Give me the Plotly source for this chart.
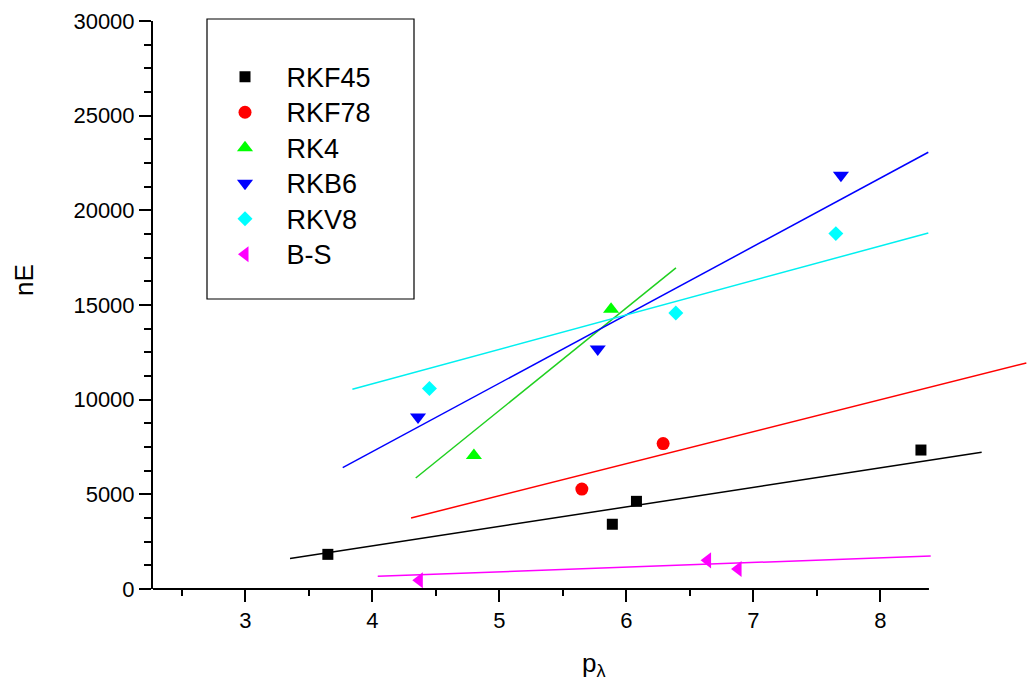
import plotly.graph_objects as go

# ---- data ----
names = ["RKF45", "RKF78", "RK4", "RKB6", "RKV8", "B-S"]

rkf45_x = [3.65, 5.89, 6.08, 8.32]
rkf45_y = [1830, 3420, 4630, 7340]
rkf78_x = [5.65, 6.29]
rkf78_y = [5280, 7680]
rk4_x = [4.80, 5.88]
rk4_y = [7050, 14780]
rkb6_x = [4.36, 5.775, 7.69]
rkb6_y = [9080, 12680, 21850]
rkv8_x = [4.45, 6.39, 7.65]
rkv8_y = [10590, 14580, 18770]
bs_x = [4.37, 6.64, 6.88]
bs_y = [460, 1516, 1057]

# fitted straight lines (end points)
fit_rkf45_x = [3.352, 8.798]
fit_rkf45_y = [1606, 7220]
fit_rkf78_x = [4.305, 9.15]
fit_rkf78_y = [3751, 11939]
fit_rk4_x = [4.342, 6.391]
fit_rk4_y = [5864, 16957]
fit_rkb6_x = [3.767, 8.378]
fit_rkb6_y = [6413, 23069]
fit_rkv8_x = [3.843, 8.378]
fit_rkv8_y = [10549, 18806]
fit_bs_x = [4.043, 8.397]
fit_bs_y = [671, 1743]

x_major = [3, 4, 5, 6, 7, 8]
x_minor = [2.5, 3.5, 4.5, 5.5, 6.5, 7.5]
x_axis_end = 8.383
y_major = [0, 5000, 10000, 15000, 20000, 25000, 30000]

# ---- styling ----
FONT = "Liberation Sans, Arial, sans-serif"
series = [
    (rkf45_x, rkf45_y, fit_rkf45_x, fit_rkf45_y, "#000000", "#000000", "square", 11),
    (rkf78_x, rkf78_y, fit_rkf78_x, fit_rkf78_y, "#FF0000", "#FF0000", "circle", 13),
    (rk4_x, rk4_y, fit_rk4_x, fit_rk4_y, "#00FF00", "#20D020", "triangle-up", 14),
    (rkb6_x, rkb6_y, fit_rkb6_x, fit_rkb6_y, "#0000FF", "#0000FF", "triangle-down", 14),
    (rkv8_x, rkv8_y, fit_rkv8_x, fit_rkv8_y, "#00FFFF", "#00F0F0", "diamond", 11.5),
    (bs_x, bs_y, fit_bs_x, fit_bs_y, "#FF00FF", "#FF00FF", "triangle-left", 14),
]

fig = go.Figure()
for name, (px_, py_, fx, fy, mcol, lcol, sym, size) in zip(names, series):
    fig.add_trace(go.Scatter(
        x=fx, y=fy, mode="lines", line=dict(color=lcol, width=1.5),
        showlegend=False, hoverinfo="skip"))
for name, (px_, py_, fx, fy, mcol, lcol, sym, size) in zip(names, series):
    fig.add_trace(go.Scatter(
        x=px_, y=py_, mode="markers",
        name='<span style="font-size:27px">%s</span>' % name,
        marker=dict(symbol=sym, size=size, color=mcol, line=dict(width=0))))

W, H = 1027, 686
L, R, T, B = 153, 0, 21, 97
pxu = 127.0
x0 = 3 - (245.3 - L) / pxu
x1 = 3 + (W - R - 245.3) / pxu
PW, PH = W - L - R, H - T - B

fig.update_layout(
    width=W, height=H,
    margin=dict(l=L, r=R, t=T, b=B, pad=0),
    paper_bgcolor="white", plot_bgcolor="white",
    font=dict(family=FONT, size=22, color="black"),
    xaxis=dict(
        range=[x0, x1], showgrid=False, zeroline=False, showline=False,
        tickmode="array", tickvals=x_major, ticktext=[str(v) for v in x_major],
        ticks="outside", ticklen=12, tickwidth=2, tickcolor="black",
        tickfont=dict(family=FONT, size=22, color="black"),
        minor=dict(tickmode="array", tickvals=x_minor, ticks="outside",
                   ticklen=6, tickwidth=2, tickcolor="black"),
    ),
    yaxis=dict(
        range=[0, 30000], showgrid=False, zeroline=False, showline=True,
        linecolor="black", linewidth=2,
        tickmode="array", tickvals=y_major, ticktext=[str(v) for v in y_major],
        ticks="outside", ticklen=12, tickwidth=2, tickcolor="black",
        tickfont=dict(family=FONT, size=22, color="black"),
        minor=dict(tick0=0, dtick=1250, ticks="outside", ticklen=7,
                   tickwidth=2, tickcolor="black"),
    ),
    legend=dict(
        x=(203.5 - L) / PW, xanchor="left",
        y=(589 - 54) / PH, yanchor="top",
        bgcolor="rgba(0,0,0,0)", borderwidth=0,
        font=dict(family=FONT, size=25, color="black"),
        itemwidth=73, tracegroupgap=0,
    ),
    shapes=[
        dict(type="line", xref="x", yref="paper", x0=x0, x1=x_axis_end,
             y0=0, y1=0, line=dict(color="black", width=2)),
        dict(type="rect", xref="paper", yref="paper",
             x0=(207 - L) / PW, x1=(414 - L) / PW,
             y0=(589 - 299) / PH, y1=(589 - 19) / PH,
             line=dict(color="black", width=1.2), fillcolor="rgba(0,0,0,0)"),
    ],
    annotations=[
        dict(text="nE", xref="paper", yref="paper",
             x=(24 - L) / PW, y=(589 - 280) / PH,
             xanchor="center", yanchor="middle", textangle=-90, showarrow=False,
             font=dict(family=FONT, size=26, color="black")),
        dict(text="p<sub>λ</sub>", xref="paper", yref="paper",
             x=(594 - L) / PW, y=(589 - 664) / PH,
             xanchor="center", yanchor="middle", showarrow=False,
             font=dict(family=FONT, size=26, color="black")),
    ],
)

fig.write_html("out.html")
